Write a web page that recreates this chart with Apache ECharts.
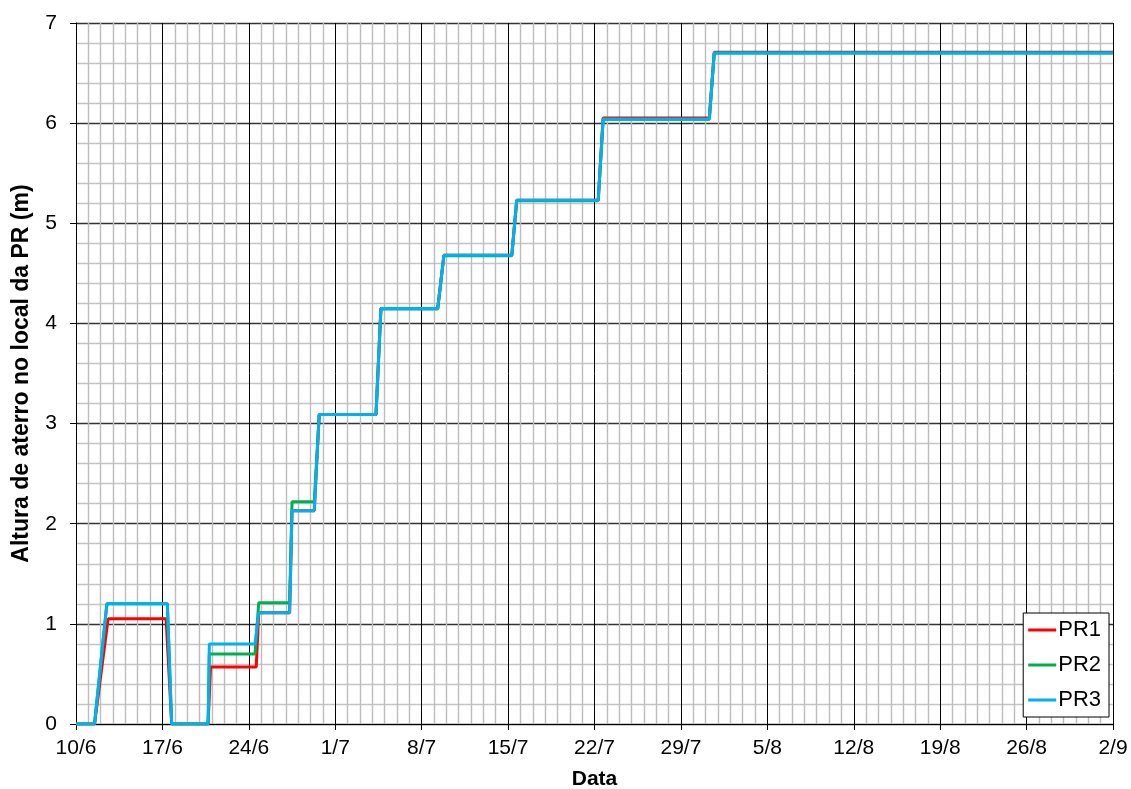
<!DOCTYPE html>
<html>
<head>
<meta charset="utf-8">
<script src="https://cdn.jsdelivr.net/npm/echarts@6/dist/echarts.min.js"></script>
<style>
  html, body { margin: 0; padding: 0; background: #fff; }
  #chart { width: 1131px; height: 789px; }
</style>
</head>
<body>
<div id="chart"></div>
<script>
// tick labels every 7 days starting at 10/6
const tickLabels = ['10/6', '17/6', '24/6', '1/7', '8/7', '15/7', '22/7', '29/7', '5/8', '12/8', '19/8', '26/8', '2/9'];

// days counted from 10/6
const pr1Days = [0, 1.5, 2.6, 7.3, 7.75, 10.7, 10.9, 14.6, 14.8, 17.3, 17.5, 19.3, 19.7, 24.3, 24.7, 29.3, 29.8, 35.3, 35.7, 42.3, 42.7, 51.3, 51.7, 84];
const pr1Values = [0, 0, 1.05, 1.05, 0, 0, 0.57, 0.57, 1.11, 1.11, 2.13, 2.13, 3.09, 3.09, 4.15, 4.15, 4.68, 4.68, 5.23, 5.23, 6.052, 6.052, 6.709, 6.709];

const pr2Days = [0, 1.5, 2.5, 7.4, 7.75, 10.7, 10.8, 14.5, 14.8, 17.3, 17.5, 19.3, 19.7, 24.3, 24.7, 29.3, 29.8, 35.3, 35.7, 42.3, 42.7, 51.3, 51.7, 84];
const pr2Values = [0, 0, 1.2, 1.2, 0, 0, 0.7, 0.7, 1.21, 1.21, 2.22, 2.22, 3.09, 3.09, 4.145, 4.145, 4.675, 4.675, 5.225, 5.225, 6.04, 6.04, 6.7, 6.7];

const pr3Days = [0, 1.5, 2.5, 7.4, 7.75, 10.7, 10.8, 14.5, 14.8, 17.3, 17.5, 19.3, 19.7, 24.3, 24.7, 29.3, 29.8, 35.3, 35.7, 42.3, 42.7, 51.3, 51.7, 84];
const pr3Values = [0, 0, 1.2, 1.2, 0, 0, 0.8, 0.8, 1.11, 1.11, 2.13, 2.13, 3.09, 3.09, 4.15, 4.15, 4.68, 4.68, 5.23, 5.23, 6.04, 6.04, 6.7, 6.7];

function pairs(days, values) {
    return days.map((d, i) => [d, values[i]]);
}

let myChart = echarts.init(document.getElementById('chart'));

const font = 'Liberation Sans, Arial, sans-serif';

let option = {
    animation: false,
    backgroundColor: '#fff',
    grid: {
        left: 76,
        top: 23,
        right: 18,
        bottom: 65,
        containLabel: false,
        outerBoundsMode: 'none'
    },
    legend: {
        orient: 'vertical',
        right: 22,
        bottom: 72,
        backgroundColor: '#fff',
        borderColor: '#000',
        borderWidth: 1,
        borderRadius: 0,
        padding: [6, 8, 6, 5],
        itemGap: 13,
        itemWidth: 28,
        itemHeight: 3,
        icon: 'rect',
        textStyle: {
            color: '#000',
            fontSize: 22,
            fontFamily: font,
            padding: [0, 0, 0, -3]
        },
        data: ['PR1', 'PR2', 'PR3']
    },
    xAxis: {
        type: 'value',
        min: 0,
        max: 84,
        interval: 7,
        name: 'Data',
        nameLocation: 'middle',
        nameGap: 45,
        nameTextStyle: {
            color: '#000',
            fontSize: 21,
            fontWeight: 'bold',
            fontFamily: font
        },
        axisLine: { show: true, lineStyle: { color: '#000', width: 1 } },
        axisTick: { show: true, length: 6, lineStyle: { color: '#000' } },
        axisLabel: {
            color: '#000',
            fontSize: 21,
            fontFamily: font,
            margin: 14,
            formatter: function(value) {
                return tickLabels[Math.round(value / 7)] || '';
            }
        },
        minorTick: { show: false, splitNumber: 7 },
        splitLine: { show: true, lineStyle: { color: '#000', width: 1 } },
        minorSplitLine: { show: true, lineStyle: { color: '#bcbcbc', width: 1.4 } }
    },
    yAxis: {
        type: 'value',
        min: 0,
        max: 7,
        interval: 1,
        name: 'Altura de aterro no local da PR (m)',
        nameLocation: 'middle',
        nameGap: 43,
        nameTextStyle: {
            color: '#000',
            fontSize: 23,
            fontWeight: 'bold',
            fontFamily: font
        },
        axisLine: { show: true, lineStyle: { color: '#000', width: 1 } },
        axisTick: { show: true, length: 6, lineStyle: { color: '#000' } },
        axisLabel: {
            color: '#000',
            fontSize: 21,
            fontFamily: font,
            margin: 19
        },
        minorTick: { show: false, splitNumber: 5 },
        splitLine: { show: true, lineStyle: { color: '#333', width: 1.3 } },
        minorSplitLine: { show: true, lineStyle: { color: '#c4c4c4', width: 1.4 } }
    },
    series: [
        {
            name: 'PR1',
            type: 'line',
            symbol: 'none',
            data: pairs(pr1Days, pr1Values),
            lineStyle: { color: '#ff0000', width: 3 },
            itemStyle: { color: '#ff0000' }
        },
        {
            name: 'PR2',
            type: 'line',
            symbol: 'none',
            data: pairs(pr2Days, pr2Values),
            lineStyle: { color: '#00b050', width: 3 },
            itemStyle: { color: '#00b050' }
        },
        {
            name: 'PR3',
            type: 'line',
            symbol: 'none',
            data: pairs(pr3Days, pr3Values),
            lineStyle: { color: '#00b0f0', width: 3 },
            itemStyle: { color: '#00b0f0' }
        }
    ]
};

myChart.setOption(option);
</script>
</body>
</html>
